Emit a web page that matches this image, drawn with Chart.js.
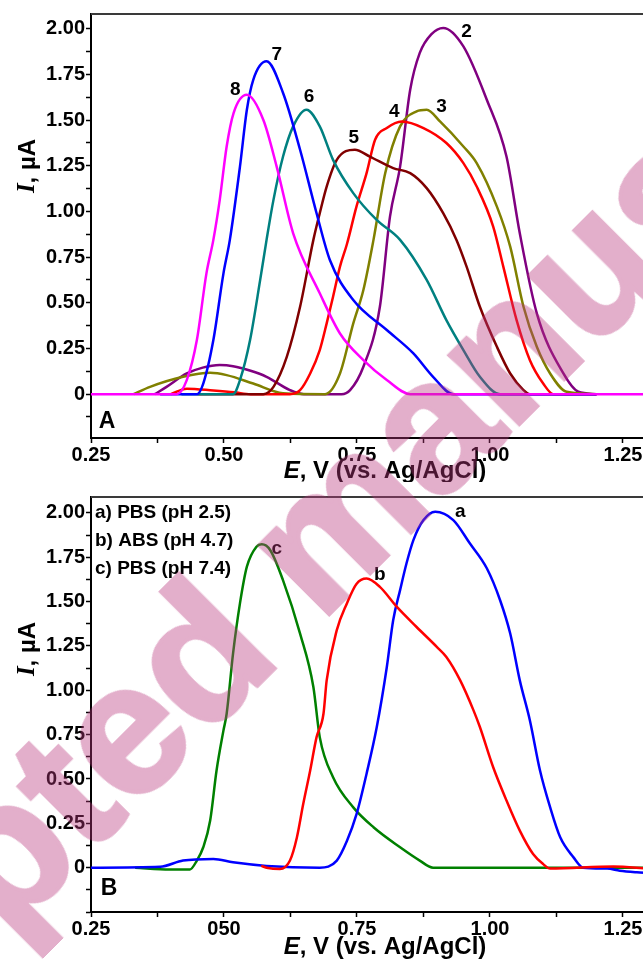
<!DOCTYPE html>
<html>
<head>
<meta charset="utf-8">
<script src="https://cdn.jsdelivr.net/npm/chart.js@4.4.0/dist/chart.umd.min.js"></script>
<style>
  html, body { margin: 0; padding: 0; background: #fff; width: 643px; height: 962px; overflow: hidden; position: relative; }
  canvas { position: absolute; left: 0; }
  #chartA { top: 0; }
  #chartB { top: 482px; }
  #stamp {
    position: absolute; left: 315px; top: 538px; width: max-content;
    transform: translate(-50%, -50%) rotate(-45deg);
    font: bold 186px "Liberation Sans", Arial, sans-serif;
    line-height: 1; white-space: nowrap; pointer-events: none;
    color: rgb(185, 55, 125);
    -webkit-text-stroke: 4px rgb(185, 55, 125);
    opacity: 0.4;
  }
</style>
</head>
<body>
<canvas id="chartA" width="660" height="482"></canvas>
<canvas id="chartB" width="660" height="480"></canvas>
<div id="stamp">Accepted manuscript</div>

<script>
// axis ranges and tick labels
const xMin = 0.25, xMax = 1.297;
const xTickValues = [0.25, 0.5, 0.75, 1.0, 1.25];
const xTickLabelsA = ['0.25', '0.50', '0.75', '1.00', '1.25'];
const xTickLabelsB = ['0.25', '050', '0.75', '1.00', '1.25'];
const yTickValues = [0, 0.25, 0.5, 0.75, 1.0, 1.25, 1.5, 1.75, 2.0];
const yTickLabels = ['0', '0.25', '0.50', '0.75', '1.00', '1.25', '1.50', '1.75', '2.00'];

// panel A: curves 2..8, potential E (V) and current I (uA)
const curveNamesA = ['2', '3', '4', '5', '6', '7', '8'];
const colorsA = ['#800080', '#808000', '#ff0000', '#800000', '#008080', '#0000ff', '#ff00ff'];

const pot2 = [0.37, 0.392, 0.43, 0.46, 0.492, 0.517, 0.55, 0.58, 0.624, 0.65, 0.721, 0.737, 0.762, 0.793, 0.812, 0.831, 0.850, 0.868, 0.89, 0.912, 0.950, 0.994, 1.031, 1.056, 1.088, 1.138, 1.166, 1.2];
const cur2 = [0, 0.04, 0.113, 0.145, 0.159, 0.153, 0.128, 0.095, 0.022, 0, 0, 0.022, 0.150, 0.478, 0.971, 1.245, 1.666, 1.867, 1.97, 2.004, 1.903, 1.611, 1.30, 0.88, 0.442, 0.113, 0.013, 0];

const pot3 = [0.33, 0.361, 0.423, 0.474, 0.505, 0.555, 0.611, 0.69, 0.718, 0.743, 0.762, 0.781, 0.803, 0.831, 0.862, 0.881, 0.906, 0.950, 0.975, 1.013, 1.038, 1.063, 1.088, 1.113, 1.144, 1.2];
const cur3 = [0, 0.04, 0.095, 0.117, 0.104, 0.058, 0.005, 0, 0.113, 0.387, 0.57, 0.844, 1.209, 1.465, 1.547, 1.556, 1.492, 1.355, 1.264, 1.026, 0.807, 0.478, 0.259, 0.113, 0.013, 0];

const pot4 = [0.40, 0.43, 0.48, 0.52, 0.55, 0.624, 0.643, 0.662, 0.68, 0.693, 0.705, 0.718, 0.731, 0.749, 0.768, 0.784, 0.806, 0.834, 0.875, 0.918, 0.950, 0.975, 1.006, 1.025, 1.050, 1.075, 1.100, 1.119, 1.2];
const cur4 = [0, 0.03, 0.02, 0.01, 0, 0, 0.022, 0.113, 0.241, 0.387, 0.533, 0.698, 0.82, 1.026, 1.209, 1.392, 1.456, 1.492, 1.456, 1.374, 1.264, 1.136, 0.917, 0.698, 0.405, 0.186, 0.058, 0, 0];

const pot5 = [0.45, 0.574, 0.593, 0.618, 0.643, 0.668, 0.680, 0.693, 0.712, 0.746, 0.774, 0.818, 0.850, 0.881, 0.912, 0.937, 0.956, 0.981, 1.013, 1.038, 1.063, 1.075, 1.2];
const cur5 = [0, 0, 0.04, 0.204, 0.478, 0.844, 0.99, 1.136, 1.282, 1.337, 1.30, 1.237, 1.209, 1.127, 0.99, 0.844, 0.698, 0.478, 0.259, 0.113, 0.022, 0, 0];

const pot6 = [0.42, 0.517, 0.530, 0.549, 0.568, 0.580, 0.593, 0.611, 0.630, 0.655, 0.680, 0.705, 0.743, 0.787, 0.831, 0.881, 0.918, 0.950, 0.981, 1.019, 1.2];
const cur6 = [0, 0, 0.077, 0.296, 0.625, 0.844, 1.063, 1.30, 1.465, 1.556, 1.465, 1.282, 1.10, 0.953, 0.844, 0.625, 0.405, 0.241, 0.095, 0, 0];

const pot7 = [0.38, 0.449, 0.461, 0.480, 0.499, 0.511, 0.530, 0.543, 0.555, 0.580, 0.611, 0.643, 0.674, 0.699, 0.743, 0.806, 0.856, 0.893, 0.931, 1.2];
const cur7 = [0, 0, 0.058, 0.296, 0.661, 0.844, 1.245, 1.556, 1.72, 1.821, 1.648, 1.337, 0.99, 0.734, 0.515, 0.351, 0.223, 0.095, 0, 0];

const pot8 = [0.25, 0.411, 0.430, 0.449, 0.467, 0.480, 0.492, 0.505, 0.518, 0.543, 0.574, 0.599, 0.630, 0.680, 0.718, 0.762, 0.806, 0.850, 1.297];
const cur8 = [0, 0, 0.077, 0.296, 0.661, 0.844, 1.063, 1.355, 1.538, 1.638, 1.50, 1.245, 0.88, 0.552, 0.332, 0.186, 0.077, 0, 0];

// panel B: buffers a, b, c
const bufferNames = ['a) PBS (pH 2.5)', 'b) ABS (pH 4.7)', 'c) PBS (pH 7.4)'];
const colorsB = ['#0000ff', '#ff0000', '#008000'];

const potBa = [0.25, 0.38, 0.423, 0.48, 0.517, 0.58, 0.68, 0.712, 0.731, 0.749, 0.768, 0.787, 0.806, 0.818, 0.831, 0.843, 0.856, 0.875, 0.897, 0.931, 0.962, 0.994, 1.019, 1.038, 1.056, 1.075, 1.094, 1.113, 1.132, 1.157, 1.175, 1.22, 1.244, 1.276, 1.297];
const curBa = [0, 0.005, 0.04, 0.049, 0.03, 0.01, 0, 0.04, 0.15, 0.30, 0.53, 0.79, 1.13, 1.395, 1.565, 1.715, 1.847, 1.96, 2.007, 1.96, 1.829, 1.688, 1.508, 1.32, 1.056, 0.83, 0.548, 0.341, 0.171, 0.058, 0, -0.005, -0.017, -0.026, -0.03];

const potBb = [0.57, 0.58, 0.605, 0.624, 0.637, 0.649, 0.662, 0.674, 0.687, 0.693, 0.712, 0.731, 0.749, 0.768, 0.793, 0.825, 0.862, 0.900, 0.918, 0.944, 0.969, 0.981, 1.006, 1.031, 1.056, 1.081, 1.100, 1.113, 1.232, 1.297];
const curBb = [0.01, 0, -0.008, 0.04, 0.17, 0.36, 0.548, 0.736, 0.868, 1.056, 1.339, 1.49, 1.60, 1.63, 1.583, 1.47, 1.357, 1.245, 1.188, 1.056, 0.887, 0.793, 0.566, 0.379, 0.209, 0.077, 0.02, -0.005, 0.006, -0.005];

const potBc = [0.333, 0.398, 0.436, 0.449, 0.461, 0.474, 0.486, 0.499, 0.505, 0.517, 0.530, 0.543, 0.561, 0.571, 0.587, 0.611, 0.643, 0.668, 0.680, 0.705, 0.743, 0.781, 0.831, 0.868, 0.893, 1.297];
const curBc = [0, -0.01, -0.01, 0.04, 0.115, 0.266, 0.548, 0.774, 0.868, 1.207, 1.49, 1.697, 1.81, 1.823, 1.79, 1.62, 1.32, 1.019, 0.736, 0.51, 0.34, 0.228, 0.115, 0.04, 0, 0];

const fontFamily = '"Liberation Sans", Arial, sans-serif';

function labelFor(v, values, labels) {
  const k = values.findIndex(t => Math.abs(t - v) < 1e-6);
  return k < 0 ? '' : labels[k];
}

function makeDataset(name, xs, ys, color) {
  return {
    label: name,
    data: xs.map((x, k) => ({ x: x, y: ys[k] })),
    borderColor: color,
    borderWidth: 2.5,
    pointRadius: 0,
    cubicInterpolationMode: 'monotone',
    fill: false
  };
}

// texts drawn around the plot: frame top, curve names, panel letter, axis titles
function decorPlugin(cfg) {
  return {
    id: 'decor',
    afterDraw(chart) {
      const { ctx, chartArea: a, scales: { x, y } } = chart;
      ctx.save();
      ctx.strokeStyle = '#3a3a3a';
      ctx.lineWidth = 2;
      ctx.beginPath();
      ctx.moveTo(a.left, a.top);
      ctx.lineTo(a.right + 10, a.top);
      ctx.stroke();

      ctx.fillStyle = '#000';
      ctx.textAlign = 'center';
      ctx.textBaseline = 'middle';
      ctx.font = 'bold 19px ' + fontFamily;
      cfg.marks.forEach(m => {
        ctx.fillText(m.text, x.getPixelForValue(m.x), y.getPixelForValue(m.y));
      });

      ctx.font = 'bold 23px ' + fontFamily;
      ctx.fillText(cfg.letter.text, x.getPixelForValue(cfg.letter.x), y.getPixelForValue(cfg.letter.y));

      if (cfg.legend) {
        ctx.textAlign = 'left';
        ctx.font = 'bold 19px ' + fontFamily;
        cfg.legend.forEach((t, k) => ctx.fillText(t, a.left + 4, a.top + 16 + k * 28));
      }

      // x title: italic E + rest
      const xt1 = 'E', xt2 = ', V (vs. Ag/AgCl)';
      const fI = 'italic bold 24px ' + fontFamily, fN = 'bold 24px ' + fontFamily;
      ctx.font = fI; const w1 = ctx.measureText(xt1).width;
      ctx.font = fN; const w2 = ctx.measureText(xt2).width;
      const sx = cfg.xTitleX - (w1 + w2) / 2;
      const ty = a.bottom + cfg.xTitleDy;
      ctx.textAlign = 'left';
      ctx.font = fI; ctx.fillText(xt1, sx, ty);
      ctx.font = fN; ctx.fillText(xt2, sx + w1, ty);

      // y title: italic serif I + rest, rotated
      const yt1 = 'I', yt2 = ', µA';
      const fS = 'italic bold 25px "Liberation Serif", "Times New Roman", serif';
      ctx.font = fS; const v1 = ctx.measureText(yt1).width;
      ctx.font = fN; const v2 = ctx.measureText(yt2).width;
      ctx.translate(28, a.top + 152);
      ctx.rotate(-Math.PI / 2);
      ctx.font = fS; ctx.fillText(yt1, -(v1 + v2) / 2, 0);
      ctx.font = fN; ctx.fillText(yt2, -(v1 + v2) / 2 + v1, 0);
      ctx.restore();
    }
  };
}

function makeOptions(yMin, yMax, xLabels, padTop, xAxisHeight) {
  const tickFont = { family: fontFamily, size: 20, weight: 'bold' };
  return {
    responsive: false,
    animation: false,
    layout: { padding: { top: padTop, right: 12, left: 0, bottom: 0 } },
    plugins: { legend: { display: false }, tooltip: { enabled: false } },
    scales: {
      x: {
        type: 'linear', min: xMin, max: xMax,
        afterFit: s => { s.height = xAxisHeight; },
        ticks: {
          stepSize: 0.125, autoSkip: false, maxRotation: 0, includeBounds: false,
          padding: 0, color: '#000', font: tickFont,
          callback: v => labelFor(v, xTickValues, xLabels)
        },
        grid: { drawOnChartArea: false, drawTicks: true, tickLength: 5, color: '#000', tickColor: '#000', tickWidth: 1.5 },
        border: { display: true, color: '#000', width: 2 }
      },
      y: {
        type: 'linear', min: yMin, max: yMax,
        afterFit: s => { s.width = 91; },
        ticks: {
          stepSize: 0.125, autoSkip: false, includeBounds: false,
          padding: 1, color: '#000', font: tickFont,
          callback: v => labelFor(v, yTickValues, yTickLabels)
        },
        grid: { drawOnChartArea: false, drawTicks: true, tickLength: 5, color: '#000', tickColor: '#000', tickWidth: 1.5 },
        border: { display: true, color: '#000', width: 2 }
      }
    }
  };
}

// panel A, magenta drawn on top
const potsA = [pot2, pot3, pot4, pot5, pot6, pot7, pot8];
const cursA = [cur2, cur3, cur4, cur5, cur6, cur7, cur8];
const datasetsA = curveNamesA.map((n, k) => makeDataset(n, potsA[k], cursA[k], colorsA[k])).reverse();

new Chart(document.getElementById('chartA'), {
  type: 'line',
  data: { datasets: datasetsA },
  options: makeOptions(-0.24, 2.08, xTickLabelsA, 14, 44),
  plugins: [decorPlugin({
    marks: [
      { text: '2', x: 0.956, y: 1.985 },
      { text: '3', x: 0.909, y: 1.574 },
      { text: '4', x: 0.820, y: 1.547 },
      { text: '5', x: 0.744, y: 1.401 },
      { text: '6', x: 0.660, y: 1.626 },
      { text: '7', x: 0.599, y: 1.858 },
      { text: '8', x: 0.521, y: 1.666 }
    ],
    letter: { text: 'A', x: 0.280, y: -0.153 },
    xTitleX: 385, xTitleDy: 33
  })]
});

// panel B, red on top, then blue, then green
const datasetsB = [
  makeDataset('b', potBb, curBb, colorsB[1]),
  makeDataset('a', potBa, curBa, colorsB[0]),
  makeDataset('c', potBc, curBc, colorsB[2])
];

new Chart(document.getElementById('chartB'), {
  type: 'line',
  data: { datasets: datasetsB },
  options: makeOptions(-0.25, 2.09, xTickLabelsB, 15, 50),
  plugins: [decorPlugin({
    marks: [
      { text: 'a', x: 0.944, y: 2.006 },
      { text: 'b', x: 0.793, y: 1.650 },
      { text: 'c', x: 0.599, y: 1.800 }
    ],
    letter: { text: 'B', x: 0.284, y: -0.119 },
    legend: bufferNames,
    xTitleX: 385, xTitleDy: 35
  })]
});
</script>
</body>
</html>
